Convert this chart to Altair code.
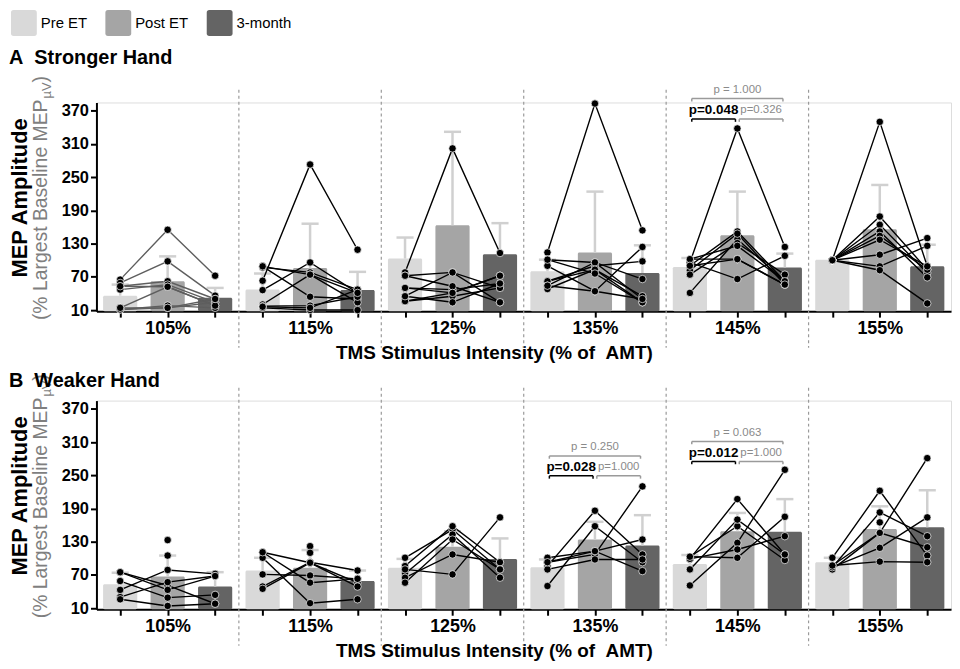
import json
import altair as alt
import pandas as pd

GROUPS = ["105%", "115%", "125%", "135%", "145%", "155%"]
CONDS = ["Pre ET", "Post ET", "3-month"]
BAR_COLORS = ["#d9d9d9", "#a5a5a5", "#646464"]
Y_TICKS = [10, 70, 130, 190, 250, 310, 370]
X_TITLE = "TMS Stimulus Intensity (% of \u00a0AMT)"
Y_TITLE = "MEP Amplitude"
Y_SUB_MAIN = "(% Largest Baseline MEP"
Y_SUB_SUB = "\u00b5V"
Y_SUB_END = ")"

# ---- Panel A: Stronger Hand ----
A_MEAN = [[36, 62, 32], [47, 86, 46], [103, 163, 111], [80, 114, 77], [88, 145, 87], [101, 156, 89]]
A_UPPER = [[56, 107, 50], [76, 166, 79], [141, 332, 167], [101, 224, 127], [104, 224, 112], [None, 236, 128]]
A_SUBJ = [
    [[65, 155, 72], [59, 98, 36], [53, 62, 30], [47, 56, 24], [14, 52, 18], [11, 18, 14], [11, 14, 24], [53, 52, 18], [14, 14, 30]],
    [[63, 273, 119], [89, 34, 30], [87, 78, 47], [46, 96, 41], [20, 74, 24], [17, 18, 34], [14, 10, 10], [16, 14, 47], [89, 74, 41]],
    [[78, 302, 113], [72, 78, 24], [50, 47, 58], [35, 78, 50], [26, 41, 72], [26, 35, 50], [72, 53, 24], [35, 24, 58], [50, 41, 72]],
    [[114, 383, 154], [62, 83, 24], [101, 96, 30], [90, 44, 124], [62, 90, 98], [54, 96, 66], [48, 83, 35], [101, 76, 24], [54, 44, 30]],
    [[96, 338, 124], [41, 138, 62], [102, 102, 56], [90, 152, 62], [82, 148, 56], [74, 131, 74], [96, 66, 108], [102, 126, 62], [90, 102, 56]],
    [[100, 350, 89], [100, 179, 83], [100, 164, 77], [100, 152, 69], [100, 144, 83], [100, 137, 89], [100, 110, 140], [100, 89, 126], [100, 82, 22]],
]

# ---- Panel B: Weaker Hand ----
B_MEAN = [[53, 67, 49], [78, 83, 59], [83, 121, 99], [84, 134, 123], [90, 149, 148], [93, 153, 156]]
B_UPPER = [[74, 105, 75], [101, 115, 78], [99, 149, 136], [98, 166, 178], [106, 182, 207], [101, 194, 223]]
B_SUBJ = [
    [[75, 51, 18], [59, 29, 34], [43, 79, 72], [30, 57, 68], [26, 14, 18], [75, 43, 68], [None, 133, None], [None, 105, None]],
    [[111, 92, 56], [101, 19, 26], [71, 69, 63], [49, 93, 78], [45, 92, 49], [111, 56, 63], [None, 122, None], [None, 110, None]],
    [[101, 152, 80], [86, 158, 93], [72, 143, 65], [65, 107, 93], [56, 134, 80], [80, 71, 174]],
    [[86, 186, 107], [50, 158, 93], [93, 107, 230], [101, 113, 134], [80, 98, 98], [93, 113, 77]],
    [[99, 207, 107], [103, 158, 97], [80, 170, 107], [51, 128, 260], [99, 116, 140], [103, 101, 175]],
    [[101, 222, 105], [84, 183, 140], [87, 146, 281], [80, 146, 120], [84, 119, 174], [87, 94, 93], [None, 165, None]],
]

# significance brackets: panel, group, from, to, label, bracket level (y units), bold
ANNOT_PANEL = ["A", "A", "A", "B", "B", "B", "B", "B", "B"]
ANNOT_GROUP = [4, 4, 4, 3, 3, 3, 4, 4, 4]
ANNOT_FROM = [0, 0, 1, 0, 0, 1, 0, 0, 1]
ANNOT_TO = [2, 1, 2, 2, 1, 2, 2, 1, 2]
ANNOT_LABEL = ["p = 1.000", "p=0.048", "p=0.326", "p = 0.250", "p=0.028", "p=1.000",
               "p = 0.063", "p=0.012", "p=1.000"]
ANNOT_LEVEL = [392, 355, 355, 285, 249, 249, 311, 275, 275]
ANNOT_BOLD = [False, True, False, False, True, False, False, True, False]

FONT = "Liberation Sans"
W, H = 860, 210
TICK_VALUES = [g * 3 + c + 0.5 for g in range(len(GROUPS)) for c in range(3)]
LABEL_EXPR = ("(datum.value - 1.5) % 3 == 0 ? " + json.dumps(GROUPS)
              + "[floor(datum.value / 3)] : ''")

X_SCALE = alt.Scale(domain=[0, 3 * len(GROUPS)], nice=False, zero=False)
Y_SCALE = alt.Scale(domain=[8, 385], nice=False, zero=False)
X_AXIS = alt.Axis(values=TICK_VALUES, labelExpr=LABEL_EXPR, title=X_TITLE, grid=False,
                  labelFontSize=18, labelFontWeight="bold", labelColor="black", labelPadding=2,
                  labelOverlap=False, labelFlush=False, tickSize=6, tickWidth=2, tickColor="black",
                  domainColor="black", domainWidth=2, titleFontSize=19, titleFontWeight="bold",
                  titleColor="black", titleX=400, titleY=42, titleAlign="center",
                  titleBaseline="middle")
Y_AXIS = alt.Axis(values=Y_TICKS, title=None, grid=False, labelFontSize=16.5,
                  labelFontWeight="bold", labelColor="black", labelPadding=2, labelFlush=False,
                  labelOverlap=False, tickSize=6, tickWidth=2, tickColor="black",
                  domainColor="black", domainWidth=2)

ROUND_SQ = "M-0.8,-1H0.8Q1,-1 1,-0.8V0.8Q1,1 0.8,1H-0.8Q-1,1 -1,0.8V-0.8Q-1,-1 -0.8,-1Z"
LEGEND = alt.Legend(title=None, orient="none", legendX=-86, legendY=-93, direction="horizontal",
                    symbolType=ROUND_SQ, symbolSize=676, symbolStrokeWidth=0,
                    labelFontSize=15, labelColor="black", labelOffset=4, columnPadding=18,
                    padding=0, labelFont=FONT)
COLOR = alt.Color("cond:N", scale=alt.Scale(domain=CONDS, range=BAR_COLORS), legend=LEGEND)


def X(f):
    return alt.X(f, type="quantitative", scale=X_SCALE, axis=X_AXIS)


def Y(f):
    return alt.Y(f, type="quantitative", scale=Y_SCALE, axis=Y_AXIS)


def panel(name, title, title_offset, means, uppers, subjects):
    bars = pd.DataFrame([
        {"g": g, "c": c, "cond": CONDS[c], "mean": means[g][c], "upper": uppers[g][c]}
        for g in range(len(GROUPS)) for c in range(3)
    ])
    pts = pd.DataFrame([
        {"g": g, "sid": f"{name}{g}-{s}", "c": c, "v": v}
        for g, subs in enumerate(subjects)
        for s, vals in enumerate(subs)
        for c, v in enumerate(vals) if v is not None
    ])
    seps = pd.DataFrame({"g": list(range(1, len(GROUPS)))})
    ann = pd.DataFrame({"panel": ANNOT_PANEL, "g": ANNOT_GROUP, "a": ANNOT_FROM, "b": ANNOT_TO,
                        "label": ANNOT_LABEL, "y": ANNOT_LEVEL, "bold": ANNOT_BOLD})
    ann = ann[ann["panel"] == name]

    base_bar = alt.Chart(bars).transform_calculate(
        xc="datum.g * 3 + datum.c + 0.5",
        x1="datum.g * 3 + datum.c + 0.14",
        x2="datum.g * 3 + datum.c + 0.86",
        xl="datum.g * 3 + datum.c + 0.32",
        xr="datum.g * 3 + datum.c + 0.68",
        base="8",
    )
    bar_layer = base_bar.mark_rect(cornerRadius=1.5).encode(
        x=X("x1"), x2=alt.X2("x2"), y=Y("mean"), y2=alt.Y2("base"), color=COLOR)
    err_base = base_bar.transform_filter("isValid(datum.upper)")
    err_stem = err_base.mark_rule(color="#d0d0d0", strokeWidth=2.5).encode(
        x=X("xc"), y=Y("mean"), y2=alt.Y2("upper"))
    err_cap = err_base.mark_rule(color="#d0d0d0", strokeWidth=2.5).encode(
        x=X("xl"), x2=alt.X2("xr"), y=Y("upper"))

    base_pts = alt.Chart(pts).transform_calculate(xc="datum.g * 3 + datum.c + 0.5")
    line_test = "datum.g == 0" if name == "A" else "false"
    lines = base_pts.mark_line(strokeWidth=1.4).encode(
        x=X("xc"), y=Y("v"), detail="sid:N", order="xc:Q",
        color=alt.condition(line_test, alt.value("#5e5e5e"), alt.value("black")))
    dots = base_pts.mark_circle(size=56, color="black", opacity=1, stroke="white",
                                strokeWidth=0.7).encode(x=X("xc"), y=Y("v"))

    sep = alt.Chart(seps).transform_calculate(xs="datum.g * 3", yt="408", yb="-58").mark_rule(
        color="#9a9a9a", strokeWidth=1.2, strokeDash=[3, 3]).encode(
        x=X("xs"), y=Y("yt"), y2=alt.Y2("yb"))

    layers = [bar_layer, err_stem, err_cap, lines, dots, sep]

    if len(ann):
        base_ann = alt.Chart(ann).transform_calculate(
            xa="datum.g * 3 + datum.a + 0.54",
            xb="datum.g * 3 + datum.b + 0.46",
            xm="datum.g * 3 + (datum.a + datum.b) / 2 + 0.5",
            yt="datum.y - 5",
        )
        bcol = alt.condition("datum.bold", alt.value("black"), alt.value("#9a9a9a"))
        layers += [
            base_ann.mark_rule(strokeWidth=1.5).encode(x=X("xa"), x2=alt.X2("xb"), y=Y("y"), color=bcol),
            base_ann.mark_rule(strokeWidth=1.5).encode(x=X("xa"), y=Y("y"), y2=alt.Y2("yt"), color=bcol),
            base_ann.mark_rule(strokeWidth=1.5).encode(x=X("xb"), y=Y("y"), y2=alt.Y2("yt"), color=bcol),
            base_ann.transform_filter("datum.bold").mark_text(
                fontSize=13.5, fontWeight="bold", color="black", dy=-9, baseline="middle").encode(
                x=X("xm"), y=Y("y"), text="label:N"),
            base_ann.transform_filter("!datum.bold").mark_text(
                fontSize=11.5, color="#8a8a8a", dy=-9, baseline="middle").encode(
                x=X("xm"), y=Y("y"), text="label:N"),
        ]

    ytitle = alt.Chart(pd.DataFrame({"t": [Y_TITLE]})).mark_text(
        angle=270, fontSize=22, fontWeight="bold", color="black", align="center",
        baseline="middle").encode(x=alt.value(-77), y=alt.value(96), text="t:N")
    ysub1 = alt.Chart(pd.DataFrame({"t": [Y_SUB_MAIN]})).mark_text(
        angle=270, fontSize=19.5, color="#7f7f7f", align="left", baseline="middle").encode(
        x=alt.value(-56), y=alt.value(219), text="t:N")
    ysub2 = alt.Chart(pd.DataFrame({"t": [Y_SUB_SUB]})).mark_text(
        angle=270, fontSize=13, color="#7f7f7f", align="left", baseline="middle").encode(
        x=alt.value(-50), y=alt.value(-4), text="t:N")
    ysub3 = alt.Chart(pd.DataFrame({"t": [Y_SUB_END]})).mark_text(
        angle=270, fontSize=19.5, color="#7f7f7f", align="left", baseline="middle").encode(
        x=alt.value(-56), y=alt.value(-20), text="t:N")
    layers += [ytitle, ysub1, ysub2, ysub3]

    return alt.layer(*layers).properties(
        width=W, height=H,
        title=alt.TitleParams(text=title, anchor="start", frame="bounds", fontSize=20,
                              fontWeight="bold", color="black", offset=title_offset, font=FONT))


top = panel("A", "A\u00a0\u00a0Stronger Hand", 8, A_MEAN, A_UPPER, A_SUBJ)
bottom = panel("B", "B\u00a0\u00a0Weaker Hand", -17, B_MEAN, B_UPPER, B_SUBJ)

chart = alt.vconcat(top, bottom, spacing=7).properties(padding=0).configure_view(
    stroke="transparent", strokeWidth=0).configure(font=FONT)

chart.save("out.html", embed_options={"renderer": "svg", "actions": False})
